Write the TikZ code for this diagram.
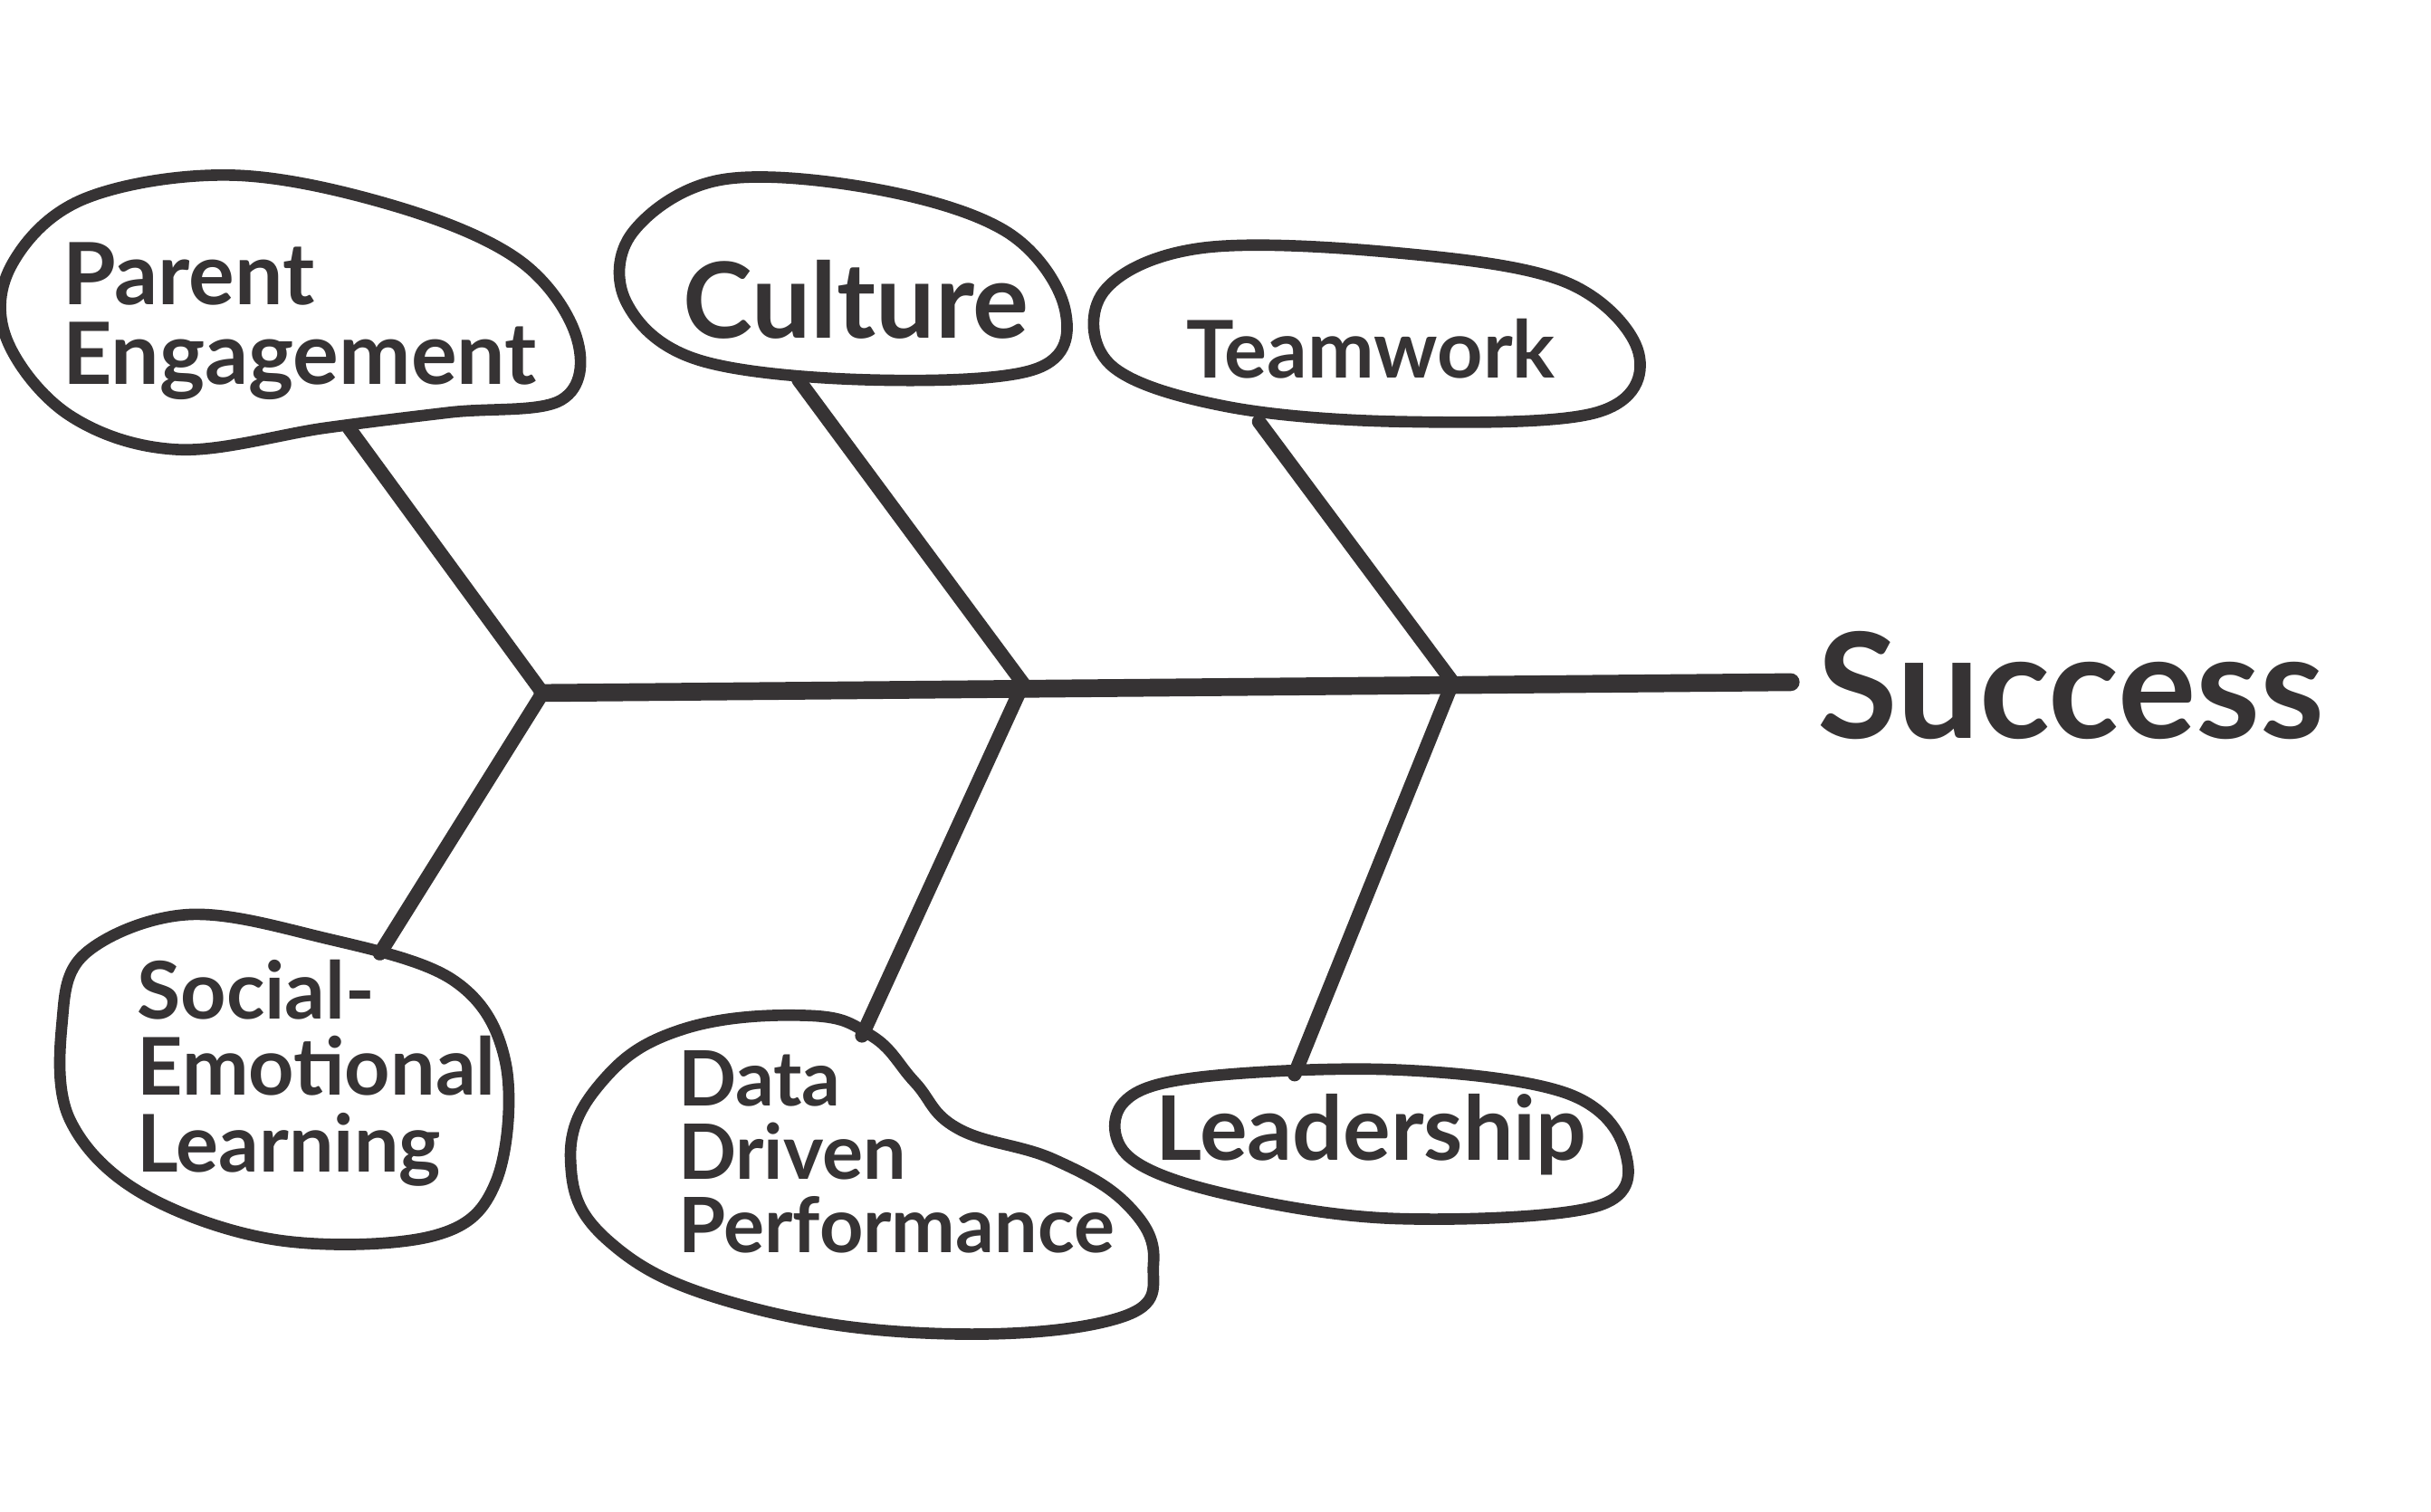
\documentclass[tikz,border=0pt]{standalone}
\usepackage{fontspec}
\setmainfont{Lato}
\usetikzlibrary{positioning}
\definecolor{ink}{HTML}{363334}

\begin{document}
\begin{tikzpicture}[x=0.017124cm, y=-0.017124cm,
    blob/.style={draw=ink, line width=3.6pt, line join=round},
    bone/.style={draw=ink, line width=4.4pt, line cap=round},
    spine/.style={draw=ink, line width=5.6pt, line cap=round},
    lbl/.style={text=ink, inner sep=0pt, align=left, anchor=west},
  ]
  \useasboundingbox (0,0) rectangle (1568,975);

  \coordinate (j1) at (350,447);
  \coordinate (j2) at (660,441);
  \coordinate (j3) at (937,440);
  \coordinate (tip) at (1155,440);

  \draw[blob] plot[smooth cycle, tension=0.6] coordinates
    {(8,170) (55,128) (150,113) (255,133) (335,168) (372,218)
     (362,258) (290,266) (210,276) (115,290) (45,268) (4,218)};
  \draw[blob] plot[smooth cycle, tension=0.6] coordinates
    {(408,150) (465,116) (565,122) (650,150) (687,200) (668,238)
     (560,245) (450,232) (404,195)};
  \draw[blob] plot[smooth cycle, tension=0.6] coordinates
    {(712,188) (775,160) (900,163) (1010,182) (1057,228) (1030,266)
     (905,272) (790,262) (716,235)};
  \draw[blob] plot[smooth cycle, tension=0.6] coordinates
    {(55,615) (120,590) (205,604) (292,632) (326,685) (320,762)
     (280,797) (180,800) (92,770) (45,722) (40,660)};
  \draw[blob] plot[smooth cycle, tension=0.7] coordinates
    {(388,698) (440,664) (520,655) (562,668) (590,698) (618,728)
     (680,748) (728,778) (744,815) (722,850) (600,860) (472,840)
     (392,800) (368,748)};
  \draw[blob] plot[smooth cycle, tension=0.6] coordinates
    {(724,712) (772,695) (900,690) (1010,705) (1048,742) (1030,778)
     (900,786) (790,770) (728,746)};

  \node[lbl, font=\fontsize{27}{25}\selectfont\bfseries] (pe) at (40,207)
    {Parent\\Engagement};
  \node[lbl, font=\fontsize{33}{36}\selectfont\bfseries] (cu) at (440,193)
    {Culture};
  \node[lbl, font=\fontsize{25}{28}\selectfont\bfseries] (tw) at (765,225)
    {Teamwork};
  \node[lbl, font=\fontsize{25}{24}\selectfont\bfseries] (sel) at (88,692)
    {Social-\\Emotional\\Learning};
  \node[lbl, font=\fontsize{24}{23}\selectfont\bfseries] (ddp) at (437,743)
    {Data\\Driven\\Performance};
  \node[lbl, font=\fontsize{28}{30}\selectfont\bfseries] (ld) at (745,732)
    {Leadership};
  \node[text=ink, inner sep=0pt, anchor=base west,
        font=\fontsize{46}{50}\selectfont\bfseries] (succ) at (1172,476)
    {Success};

  \coordinate (pe-tail) at (225,276);
  \coordinate (cu-tail) at (515,245);
  \coordinate (tw-tail) at (812,272);
  \coordinate (sel-tail) at (245,615);
  \coordinate (ddp-tail) at (556,668);
  \coordinate (ld-tail) at (835,693);

  \draw[spine] (j1) -- (tip);
  \draw[bone] (pe-tail) -- (j1) -- (sel-tail);
  \draw[bone] (cu-tail) -- (j2) -- (ddp-tail);
  \draw[bone] (tw-tail) -- (j3) -- (ld-tail);
\end{tikzpicture}
\end{document}
